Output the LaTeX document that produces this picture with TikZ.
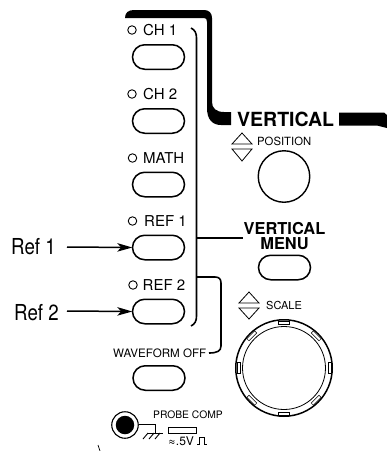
\documentclass[tikz,border=0pt]{standalone}
\usepackage{fontspec}
\setmainfont{TeX Gyre Heros}
\usetikzlibrary{arrows.meta,shapes.misc}
\tikzset{
  x=1pt,y=-1pt,
  btn/.style={draw,rounded rectangle,line width=1.5pt,minimum width=52pt,minimum height=24.5pt,inner sep=0pt},
  led/.style={draw,circle,line width=.9pt,minimum size=8.5pt,inner sep=0pt},
  lab/.style={inner sep=0pt,font=\fontsize{15}{15}\selectfont},
  small/.style={inner sep=0pt,font=\fontsize{11.3}{11.3}\selectfont},
  refl/.style={inner sep=0pt,font=\fontsize{22}{22}\selectfont,xscale=.85},
  head/.style={inner sep=0pt,font=\fontsize{16.4}{16.4}\bfseries\selectfont},
  wire/.style={line width=1.6pt},
  point/.style={line width=1.5pt,-{Stealth[length=15pt,width=8.5pt,inset=4pt]},shorten >=-.5pt},
  tri/.style={draw,line width=.8pt,fill=white},
}
\begin{document}
\begin{tikzpicture}
\useasboundingbox (0,0) rectangle (387,451);
% bold frame
\fill (125,18) .. controls (125,13) and (128,10) .. (134,10) -- (204,10)
  .. controls (209,10) and (212,13) .. (212,18) -- (212,102)
  .. controls (212,108) and (216,112) .. (224,112) -- (231,112) -- (231,125)
  -- (221,125) .. controls (212,125) and (207,119) .. (207,108) -- (207,22)
  .. controls (207,19) and (206,18) .. (204,18) -- cycle;
\fill (339,112.5) -- (384,112.5) -- (387,115) -- (387,128) -- (377,125.5) -- (339,125.5) -- cycle;
% buttons and LEDs
\node[btn] (b1) at (158.5,57) {};
\node[btn] (b2) at (158.5,121) {};
\node[btn] (b3) at (158.5,184.5) {};
\node[btn] (b4) at (158.5,247.5) {};
\node[btn] (b5) at (158.5,311.5) {};
\node[btn] (b6) at (159,378) {};
\node[btn] (b7) at (284.5,267.5) {};
\node[led] (l1) at (132,30) {};
\node[led] (l2) at (132,94) {};
\node[led] (l3) at (132.5,158) {};
\node[led] (l4) at (132.5,221) {};
\node[led] (l5) at (133,285) {};
\node[lab,anchor=west] (t1) at (143,30) {CH 1};
\node[lab,anchor=west] (t2) at (143,94) {CH 2};
\node[lab,anchor=west] (t3) at (143,158) {MATH};
\node[lab,anchor=west] (t4) at (144,221) {REF 1};
\node[lab,anchor=west] (t5) at (142.5,285) {REF 2};
\node[small,font=\fontsize{11.6}{11.6}\selectfont,anchor=west] (t6) at (113,353) {WAVEFORM OFF};
% brackets
\draw[wire] (191,28) .. controls (195,30) and (196.5,33) .. (196.5,38) -- (196.5,316) .. controls (196.5,321) and (195,324) .. (191,326);
\coordinate (m1) at (196.5,238);
\coordinate (m1e) at (243,238);
\coordinate (m2) at (196.5,277);
\coordinate (m2e) at (209,353);
\draw[wire] (m1) -- (m1e);
\draw[wire] (m2) -- (215,277) .. controls (219,277) and (221,279) .. (221,283) -- (221,346) .. controls (221,351) and (217,353) .. (m2e);
% callouts
\node[refl,anchor=west] (r1) at (11,247) {Ref 1};
\node[refl,anchor=west] (r2) at (14,313) {Ref 2};
\draw[point] (67,247) -- (b4.west);
\draw[point] (67,311) -- (b5.west);
% headings
\node[inner sep=0pt,font=\fontsize{19.5}{19.5}\bfseries\selectfont,anchor=west] (v) at (237,119) {VERTICAL};
\node[head] (vm1) at (284.5,229) {VERTICAL};
\node[head] (vm2) at (284.5,244) {MENU};
% position
\node[small,anchor=west] (p) at (257,141) {POSITION};
\draw[tri] (232,144) -- (242,133) -- (252,144) -- cycle;
\draw[tri] (232,149) -- (242,161) -- (252,149) -- cycle;
\node[draw,circle,line width=1.4pt,minimum size=51.5pt,inner sep=0pt] (k1) at (284,176.5) {};
% scale
\node[small,font=\fontsize{11}{11}\selectfont,anchor=west] (s) at (266,305) {SCALE};
\draw[tri] (239,303) -- (249,292) -- (259,303) -- cycle;
\draw[tri] (239,308) -- (249,319) -- (259,308) -- cycle;
\node[draw,circle,line width=1.5pt,minimum size=96.5pt,inner sep=0pt] (k2) at (284,368) {};
\node[draw,circle,line width=.8pt,minimum size=83pt,inner sep=0pt] (k3) at (284,368) {};
\foreach \a in {0,45,...,315}{
  \draw[line width=.4pt,rotate around={\a:(284,368)}] (278.5,321) rectangle (289.5,324);
}
% probe comp
\node[small,font=\fontsize{10.3}{10.3}\selectfont,anchor=west] (pc) at (153,415) {PROBE COMP};
\node[draw,circle,line width=1.1pt,minimum size=26.5pt,inner sep=0pt] (bnc) at (125,425) {};
\node[fill,circle,minimum size=18.5pt,inner sep=0pt] (bnci) at (125,425) {};
\coordinate (g1) at (155,424);
\coordinate (g2) at (155,433);
\draw[line width=.9pt] (bnc.east |- g1) -- (g1) -- (g2);
\draw[line width=.9pt] (148,433) -- (163,433);
\foreach \x in {148,154,160}{\draw[line width=.9pt] (\x,433) -- (\x-5,439);}
\node[draw,line width=.9pt,minimum width=28pt,minimum height=6pt,inner sep=0pt] (pr) at (182.5,430) {};
\node[inner sep=0pt,font=\fontsize{12}{12}\selectfont,anchor=west] (pv) at (168,441) {≈.5V};
\draw[line width=.9pt] (197,444) -- (199.5,444) -- (199.5,437) -- (204.5,437) -- (204.5,444) -- (207,444);
\draw[line width=.7pt] (98,445) -- (100,451);
\end{tikzpicture}
\end{document}
